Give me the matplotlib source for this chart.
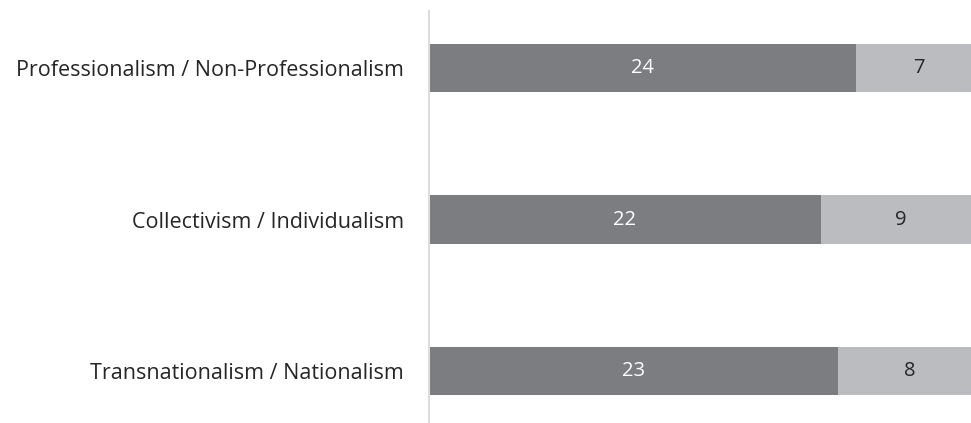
import matplotlib.pyplot as plt

categories = ["Professionalism / Non-Professionalism",
              "Collectivism / Individualism",
              "Transnationalism / Nationalism"]
first_values = [24, 22, 23]
second_values = [7, 9, 8]

dark = "#7c7d80"
light = "#bbbcbf"

plt.rcParams['font.family'] = ['Open Sans', 'DejaVu Sans']

fig = plt.figure(figsize=(9.71, 4.23), dpi=100)
ax = fig.add_axes([429 / 971, 0.0, 1 - 429 / 971, 1 - 11 / 423])

ypos = list(range(len(categories)))
bars1 = ax.barh(ypos, first_values, height=0.317, color=dark)
bars2 = ax.barh(ypos, second_values, left=first_values, height=0.317, color=light)

for b, v in zip(bars1, first_values):
    ax.text(b.get_x() + b.get_width() / 2, b.get_y() + b.get_height() / 2, str(v),
            ha='center', va='center', color='white', fontsize=14.5)
for b, v in zip(bars2, second_values):
    ax.text(b.get_x() + b.get_width() / 2, b.get_y() + b.get_height() / 2, str(v),
            ha='center', va='center', color='#262626', fontsize=14.5)

ax.set_xlim(0, (971 - 429) / 17.8)
ax.set_ylim(2 + 0.343, -0.376)
ax.set_yticks(ypos)
ax.set_yticklabels(categories, fontsize=15.5, color='#262626')
ax.tick_params(axis='y', length=0, pad=18)
ax.set_xticks([])

for s in ['top', 'right', 'bottom']:
    ax.spines[s].set_visible(False)
ax.spines['left'].set_color('#dcdcdc')
ax.spines['left'].set_linewidth(1.5)

fig.savefig('out.png', dpi=100)
